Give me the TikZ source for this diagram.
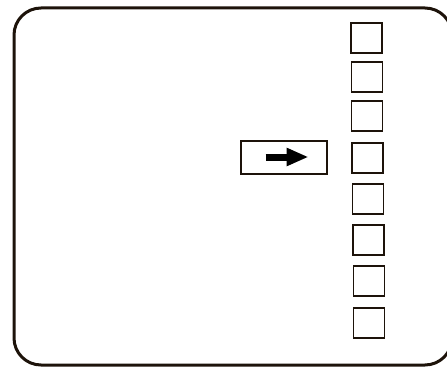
\documentclass[tikz,border=0pt]{standalone}
\usetikzlibrary{arrows.meta,positioning}
\tikzset{
	slot/.style={draw=black!85!brown,line width=1.3pt,minimum width=31pt,minimum height=30pt,inner sep=0pt},
	pointer/.style={draw=black!85!brown,line width=2pt,minimum width=86pt,minimum height=33pt,inner sep=0pt}
}
\begin{document}
\begin{tikzpicture}[x=1pt,y=-1pt]
		\useasboundingbox (0,0) rectangle (447,369);
		% Marc de la pantalla
		\draw[line width=3pt,black!85!brown,rounded corners=27pt] (14,8) rectangle (452,365);

		% Columna de caselles
		\foreach \i/\yy in {1/38,2/77,3/116,4/158,5/199,6/240,7/281,8/323} {
			\node[slot] (s\i) at (366+\i*0.4,\yy) {};
		}

		% Caixa amb la fletxa
		\node[pointer] (box) at (283.5,157) {};
		\coordinate (A) at ([xshift=-18pt]box.center);
		\coordinate (B) at ([xshift=25pt]box.center);
		\draw[line width=7pt,-{Triangle[length=22pt,width=17pt]}] (A) -- (B);
	\end{tikzpicture}
\end{document}
